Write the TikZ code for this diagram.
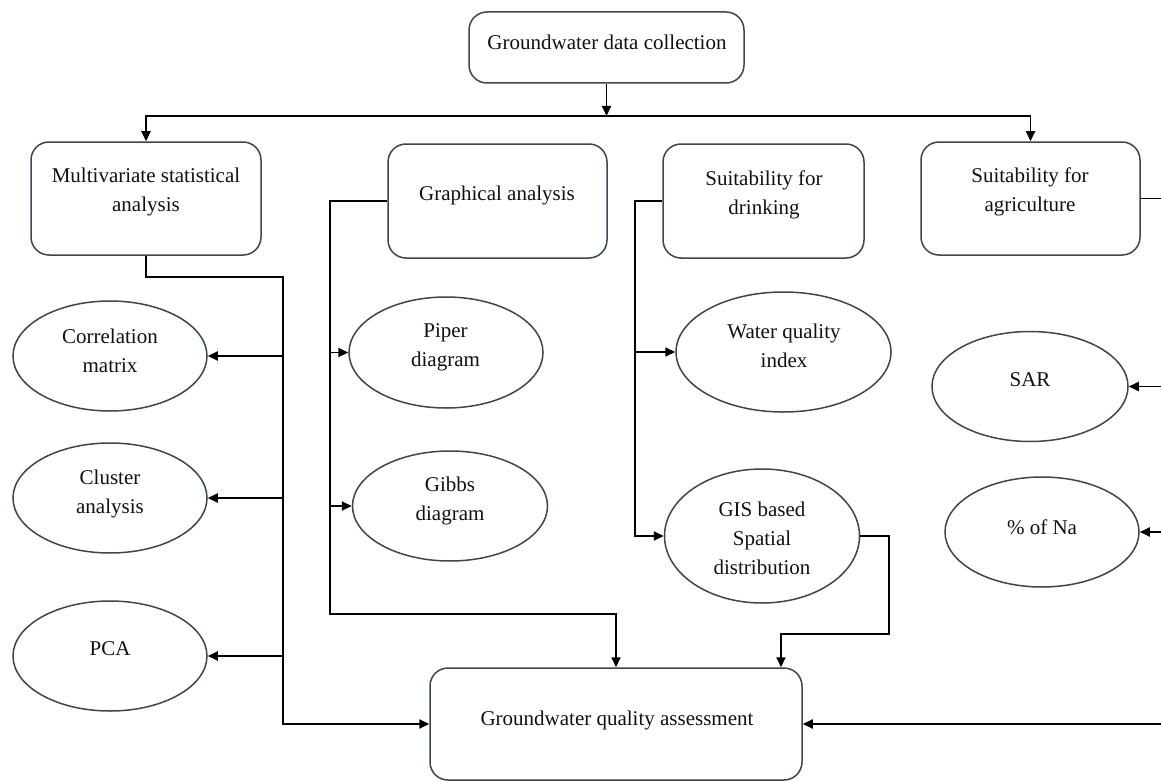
\documentclass[tikz,border=0pt]{standalone}
\usepackage{fontspec}
\setmainfont{Liberation Serif}
\usetikzlibrary{shapes.geometric,arrows.meta}
\definecolor{edgegray}{HTML}{3D464D}
\definecolor{inkblack}{HTML}{111111}

\begin{document}
\begin{tikzpicture}[x=1pt,y=-1pt,
  box/.style={draw=edgegray, line width=1.5pt, rounded corners=18pt, inner sep=0pt},
  oval/.style={draw=edgegray, line width=1.5pt, ellipse, inner sep=0pt},
  lbl/.style={align=center, inner sep=0pt, font=\fontsize{21}{29}\selectfont, text=inkblack},
  wire/.style={draw=black, line width=1.8pt},
  feed/.style={wire, -{Triangle[length=10pt,width=9pt]}},
]
\fill[white] (0,0) rectangle (1161,781);
\useasboundingbox (0,0) rectangle (1161,781);

% rounded boxes
\node[box, minimum width=275pt, minimum height=71pt]  (collect) at (606.5,47.5) {};
\node[box, minimum width=230pt, minimum height=113pt] (multi)   at (146,198.5) {};
\node[box, minimum width=219pt, minimum height=114pt] (graph)   at (497.5,201) {};
\node[box, minimum width=201pt, minimum height=114pt] (drink)   at (763.5,201) {};
\node[box, minimum width=219pt, minimum height=113pt] (agri)    at (1030.5,198.5) {};
\node[box, minimum width=372pt, minimum height=112pt] (assess)  at (616,724) {};

% ellipses
\node[oval, minimum width=194pt, minimum height=110pt] (corr)  at (110,356) {};
\node[oval, minimum width=194pt, minimum height=110pt] (clus)  at (110,498) {};
\node[oval, minimum width=194pt, minimum height=110pt] (pca)   at (110,656) {};
\node[oval, minimum width=194pt, minimum height=111pt] (piper) at (446,352.5) {};
\node[oval, minimum width=195pt, minimum height=110pt] (gibbs) at (450,506) {};
\node[oval, minimum width=215pt, minimum height=120pt] (wqi)   at (783.5,352) {};
\node[oval, minimum width=195pt, minimum height=134pt] (gis)   at (762,536) {};
\node[oval, minimum width=196pt, minimum height=110pt] (sar)   at (1030,386.5) {};
\node[oval, minimum width=194pt, minimum height=110pt] (na)    at (1042,532) {};

% labels
\node[lbl] (collect-t) at (607,42)      {Groundwater data collection};
\node[lbl] (multi-t)   at (146,191.5)   {Multivariate statistical\\analysis};
\node[lbl] (graph-t)   at (497,195)     {Graphical analysis};
\node[lbl] (drink-t)   at (764,194.5)   {Suitability for\\drinking};
\node[lbl] (agri-t)    at (1030,191.5)  {Suitability for\\agriculture};
\node[lbl] (assess-t)  at (617,720)     {Groundwater quality assessment};
\node[lbl] (corr-t)    at (110,350.5)   {Correlation\\matrix};
\node[lbl] (clus-t)    at (110,493.5)   {Cluster\\analysis};
\node[lbl] (pca-t)     at (110,649)     {PCA};
\node[lbl] (piper-t)   at (445.5,347)   {Piper\\diagram};
\node[lbl] (gibbs-t)   at (450,501)     {Gibbs\\diagram};
\node[lbl] (wqi-t)     at (784,346)     {Water quality\\index};
\node[lbl] (gis-t)     at (762,538.5)   {GIS based\\Spatial\\distribution};
\node[lbl] (sar-t)     at (1030,380)    {SAR};
\node[lbl] (na-t)      at (1042,527)    {\% of Na};

% routing points
\coordinate (bus)     at (606,116);
\coordinate (mspine)  at (283,277);
\coordinate (gspine)  at (330,614);
\coordinate (dspine)  at (635,0);
\coordinate (gisbend) at (889,634);
\coordinate (gisdrop) at (781,0);
\coordinate (rim)     at (1161,0);

% top distribution
\draw[feed] (collect.south) -- (collect.south |- bus);
\draw[feed] (bus) -| (multi.north);
\draw[feed] (bus) -| (agri.north);

% multivariate branch
\draw[feed] (multi.south) |- (mspine) |- (assess.west);
\draw[feed] (mspine |- corr.east) -- (corr.east);
\draw[feed] (mspine |- clus.east) -- (clus.east);
\draw[feed] (mspine |- pca.east) -- (pca.east);

% graphical branch
\draw[feed] (graph.west) -| (gspine) -| (assess.north);
\draw[feed] (gspine |- piper.west) -- (piper.west);
\draw[feed] (gspine |- gibbs.west) -- (gibbs.west);

% drinking branch
\draw[feed] (drink.west) -| (dspine |- gis.west) -- (gis.west);
\draw[feed] (dspine |- wqi.west) -- (wqi.west);
\draw[feed] (gis.east) -| (gisbend) -| (gisdrop |- assess.north);

% agriculture branch
\draw[wire] (agri.east) -- (agri.east -| rim);
\draw[feed] (rim |- sar.east) -- (sar.east);
\draw[feed] (rim |- na.east) -- (na.east);
\draw[feed] (rim |- assess.east) -- (assess.east);
\end{tikzpicture}
\end{document}
